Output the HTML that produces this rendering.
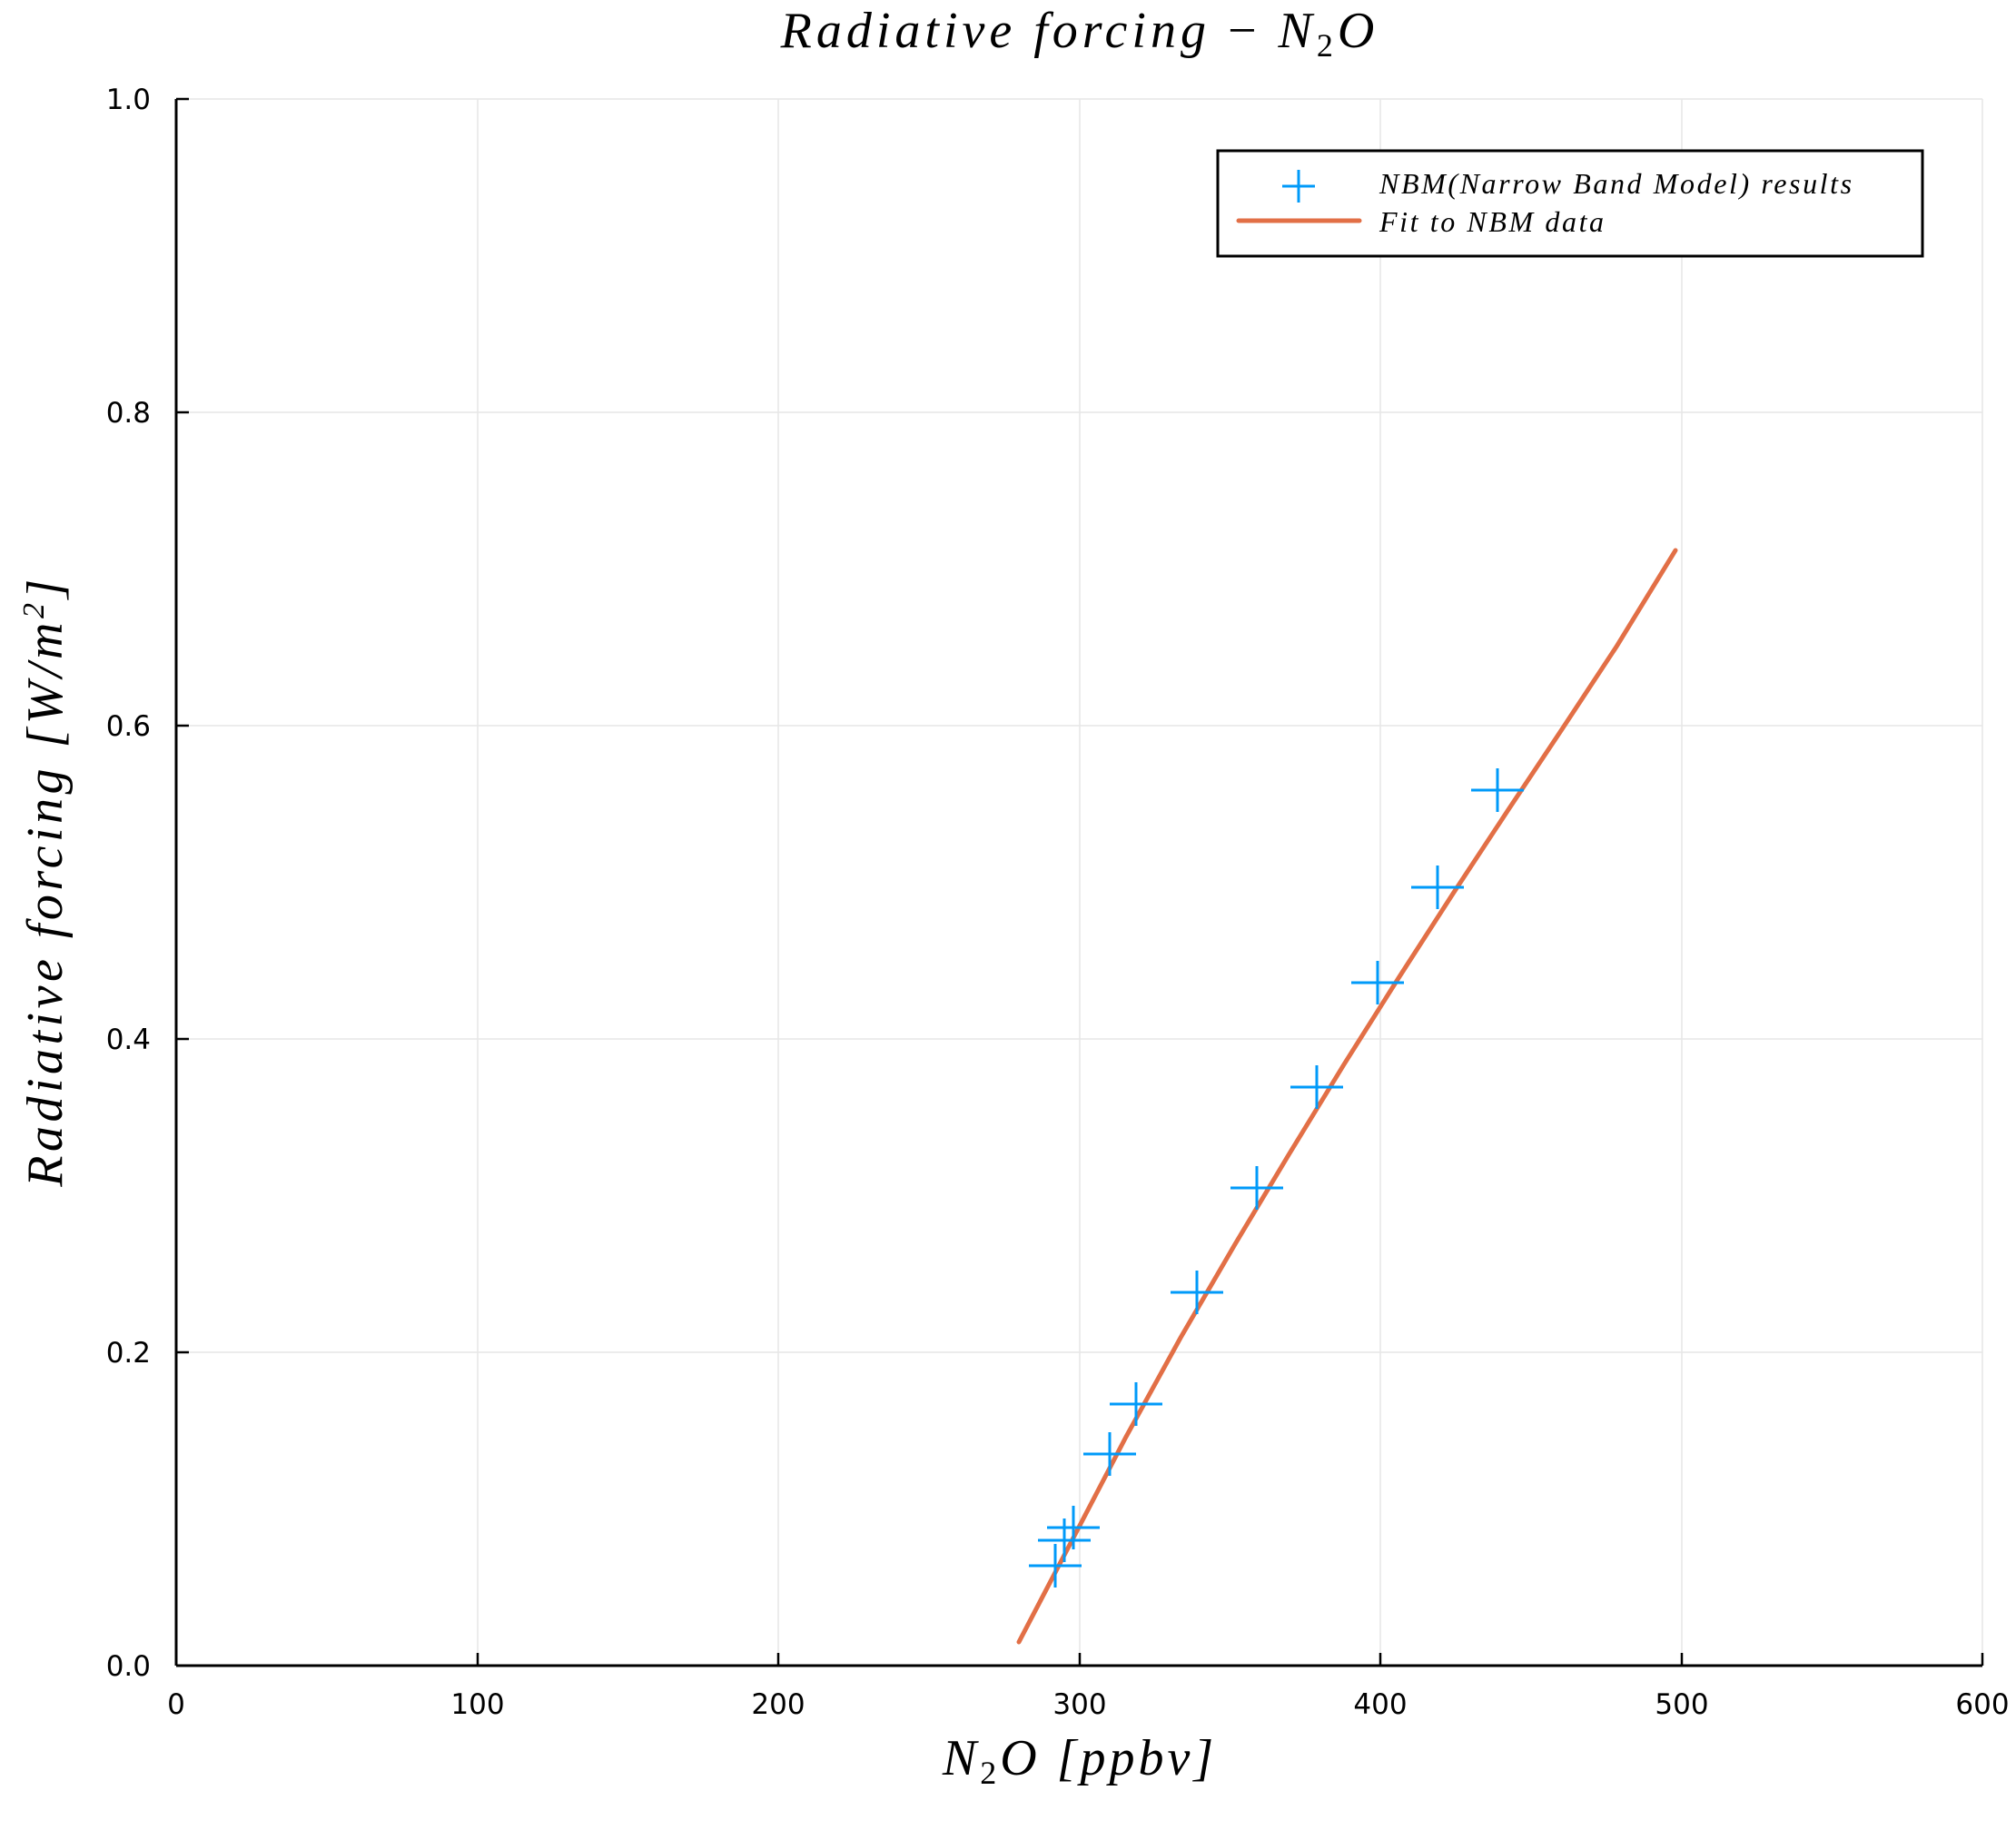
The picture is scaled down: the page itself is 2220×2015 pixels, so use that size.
<!DOCTYPE html>
<html><head><meta charset="utf-8"><style>body{margin:0;background:#fff}</style></head><body>
<svg width="2220" height="2010" xmlns="http://www.w3.org/2000/svg" font-family="DejaVu Sans, Liberation Sans, sans-serif">
<rect width="2220" height="2010" fill="#fff"/>
<g stroke="#e6e6e6" stroke-width="1.5">
<line x1="526" y1="109" x2="526" y2="1834"/><line x1="857" y1="109" x2="857" y2="1834"/>
<line x1="1189" y1="109" x2="1189" y2="1834"/><line x1="1520" y1="109" x2="1520" y2="1834"/>
<line x1="1852" y1="109" x2="1852" y2="1834"/><line x1="2183" y1="109" x2="2183" y2="1834"/>
<line x1="194" y1="109" x2="2183" y2="109"/><line x1="194" y1="454" x2="2183" y2="454"/>
<line x1="194" y1="799" x2="2183" y2="799"/><line x1="194" y1="1144" x2="2183" y2="1144"/>
<line x1="194" y1="1489" x2="2183" y2="1489"/>
</g>
<g stroke="#000" stroke-width="3">
<line x1="194" y1="1834" x2="2183" y2="1834"/><line x1="194" y1="109" x2="194" y2="1834"/>
</g>
<g stroke="#000" stroke-width="2.5">
<line x1="526" y1="1834" x2="526" y2="1820"/><line x1="857" y1="1834" x2="857" y2="1820"/><line x1="1189" y1="1834" x2="1189" y2="1820"/><line x1="1520" y1="1834" x2="1520" y2="1820"/><line x1="1852" y1="1834" x2="1852" y2="1820"/><line x1="2183" y1="1834" x2="2183" y2="1820"/>
<line x1="194" y1="109" x2="208" y2="109"/><line x1="194" y1="454" x2="208" y2="454"/><line x1="194" y1="799" x2="208" y2="799"/><line x1="194" y1="1144" x2="208" y2="1144"/><line x1="194" y1="1489" x2="208" y2="1489"/>
</g>
<g font-size="31" text-anchor="middle" fill="#000">
<text x="194" y="1887">0</text><text x="526" y="1887">100</text><text x="857" y="1887">200</text><text x="1189" y="1887">300</text><text x="1520" y="1887">400</text><text x="1852" y="1887">500</text><text x="2183" y="1887">600</text>
</g>
<g font-size="31" text-anchor="end" fill="#000">
<text x="166" y="1845">0.0</text><text x="166" y="1500">0.2</text><text x="166" y="1155">0.4</text><text x="166" y="810">0.6</text><text x="166" y="465">0.8</text><text x="166" y="120">1.0</text>
</g>
<g font-family="Liberation Serif, serif" font-style="italic" fill="#000">
<text x="1189" y="52" font-size="56" text-anchor="middle" letter-spacing="5">Radiative forcing <tspan font-style="normal">−</tspan>  N<tspan font-size="36" dy="10" font-style="normal">2</tspan><tspan dy="-10">O</tspan></text>
<text x="1189" y="1954" font-size="56" text-anchor="middle" letter-spacing="4">N<tspan font-size="36" dy="10" font-style="normal">2</tspan><tspan dy="-10">O   [ppbv]</tspan></text>
<text transform="translate(68,970) rotate(-90)" font-size="56" text-anchor="middle" letter-spacing="4.5">Radiative forcing   [W/m<tspan font-size="34" dy="-20">2</tspan><tspan dy="20">]</tspan></text>
</g>
<polyline fill="none" stroke="#e26f46" stroke-width="5" stroke-linecap="round" points="1122,1808 1180,1697 1240,1582 1300,1473 1360,1370 1420,1270 1480,1172 1540,1077 1600,984 1660,893 1720,803 1780,712 1845,606"/>
<g stroke="#009af9" stroke-width="3">
<path d="M1133 1724h58M1162 1700v48 M1143 1696h58M1172 1672v48 M1153 1682h58M1182 1658v48 M1193 1601h58M1222 1577v48 M1222 1546h58M1251 1522v48 M1289 1423h58M1318 1399v48 M1355 1308h58M1384 1284v48 M1421 1197h58M1450 1173v48 M1488 1082h58M1517 1058v48 M1554 977h58M1583 953v48 M1620 870h58M1649 846v48"/>
</g>
<rect x="1341" y="166" width="776" height="116" fill="#fff" stroke="#000" stroke-width="3"/>
<path d="M1412 205h36M1430 187v36" stroke="#009af9" stroke-width="3"/>
<line x1="1364" y1="243" x2="1497" y2="243" stroke="#e26f46" stroke-width="5" stroke-linecap="round"/>
<g font-family="Liberation Serif, serif" font-style="italic" font-size="32" fill="#000" letter-spacing="2.6">
<text x="1519" y="213">NBM(Narrow Band Model) results</text>
<text x="1519" y="255">Fit to NBM data</text>
</g>
</svg>
</body></html>
